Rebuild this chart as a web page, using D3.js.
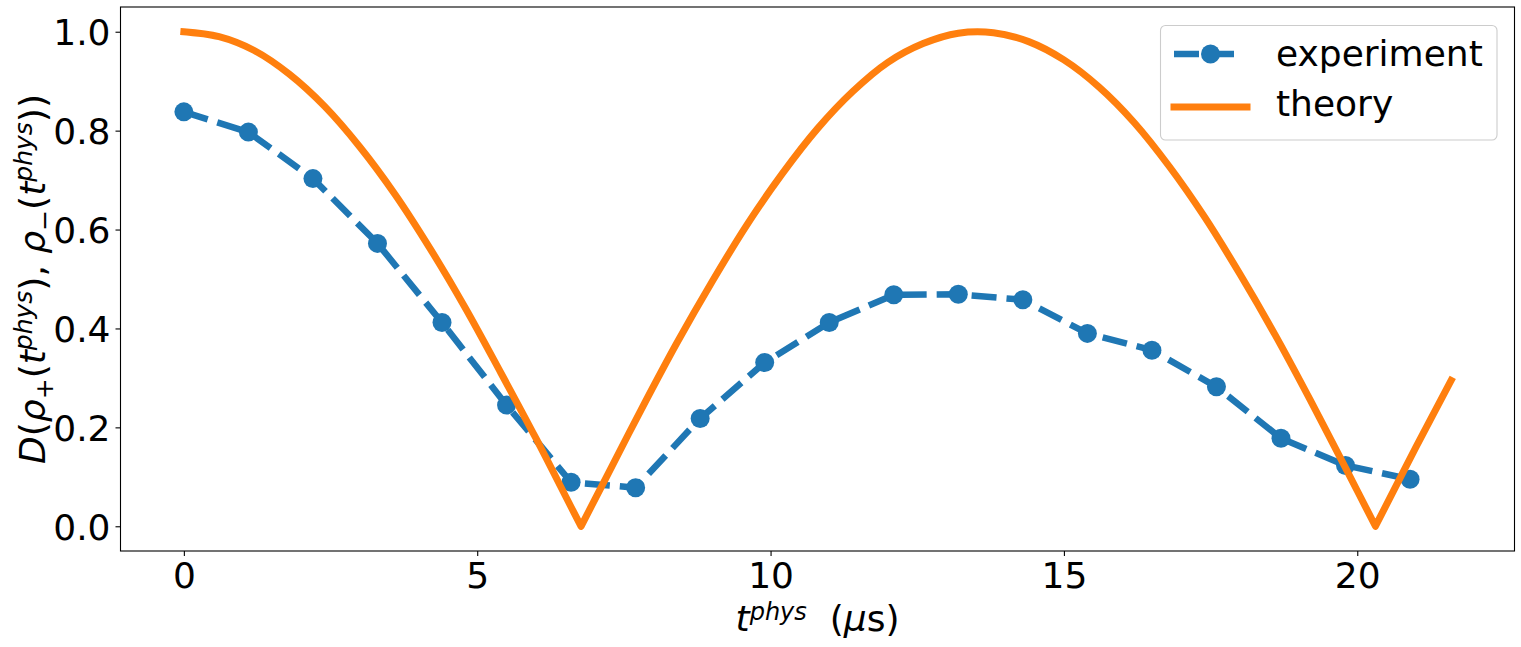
<!DOCTYPE html>
<html>
<head>
<meta charset="utf-8">
<script src="https://cdn.jsdelivr.net/npm/d3@7/dist/d3.min.js"></script>
<style>
  html, body { margin: 0; padding: 0; background: #fff; }
  svg { display: block; font-family: "DejaVu Sans", sans-serif; }
</style>
</head>
<body>
<div id="chart"></div>
<script>
// experiment: measured distance at each physical time (us)
const expTimes = [0, 1.1, 2.2, 3.3, 4.4, 5.5, 6.6, 7.7, 8.8, 9.9, 11.0, 12.1, 13.2, 14.3, 15.4, 16.5, 17.6, 18.7, 19.8, 20.9];
const expValues = [0.838, 0.797, 0.703, 0.572, 0.412, 0.245, 0.089, 0.078, 0.218, 0.331, 0.412, 0.468, 0.469, 0.458, 0.390, 0.356, 0.282, 0.178, 0.123, 0.095];

// theory curve
const theoryTimes = [0, 0.6, 1.2, 1.8, 2.4, 3.0, 3.6, 4.2, 4.8, 5.4, 6.0, 6.6, 6.77, 7.2, 7.8, 8.4, 9.0, 9.6, 10.2, 10.8, 11.4, 12.0, 12.6, 13.2, 13.8, 14.4, 15.0, 15.6, 16.2, 16.8, 17.4, 18.0, 18.6, 19.2, 19.8, 20.31, 20.4, 21.0, 21.6];
const theoryValues = [1.000, 0.990, 0.962, 0.914, 0.849, 0.767, 0.671, 0.561, 0.441, 0.311, 0.178, 0.039, 0.000, 0.099, 0.237, 0.370, 0.494, 0.610, 0.713, 0.804, 0.879, 0.938, 0.976, 0.997, 0.998, 0.980, 0.943, 0.888, 0.816, 0.727, 0.625, 0.510, 0.387, 0.255, 0.118, 0.000, 0.021, 0.160, 0.295];

const xTicks = [0, 5, 10, 15, 20];
const yTicks = [0, 0.2, 0.4, 0.6, 0.8, 1.0];
const seriesNames = ["experiment", "theory"];

const W = 1521, H = 647;
const margin = { top: 7, right: 6.5, bottom: 96, left: 120.5 };
const width = W - margin.left - margin.right;
const height = H - margin.top - margin.bottom;
const blue = "#1f77b4", orange = "#ff7f0e";
const fontSize = 36;
const smallSize = 24;

const svg = d3.select("#chart").append("svg")
    .attr("width", W)
    .attr("height", H);

const g = svg.append("g")
    .attr("transform", `translate(${margin.left},${margin.top})`);

// Scales (matplotlib style 5% padding)
const x = d3.scaleLinear().domain([-1.08, 22.68]).range([0, width]);
const y = d3.scaleLinear().domain([-0.05, 1.05]).range([height, 0]);

// Axes
const xAxis = g.append("g")
    .attr("transform", `translate(0,${height})`)
    .call(d3.axisBottom(x).tickValues(xTicks).tickFormat(d3.format("d")).tickSize(5).tickPadding(5));
const yAxis = g.append("g")
    .call(d3.axisLeft(y).tickValues(yTicks).tickFormat(d3.format(".1f")).tickSize(5).tickPadding(5));

[xAxis, yAxis].forEach(a => {
    a.select(".domain").remove();
    a.selectAll("line").attr("stroke", "#000").attr("stroke-width", 1.1);
    a.selectAll("text")
        .attr("fill", "#000")
        .style("font-size", fontSize + "px")
        .style("font-family", "DejaVu Sans");
});
xAxis.selectAll("text").attr("dy", "0.74em");
yAxis.selectAll("text").attr("dy", "0.36em");

// Frame
g.append("rect")
    .attr("x", 0).attr("y", 0)
    .attr("width", width).attr("height", height)
    .attr("fill", "none")
    .attr("stroke", "#000")
    .attr("stroke-width", 1.1);

// Experiment (dashed line with markers)
const expData = expTimes.map((t, i) => [t, expValues[i]]);
const line = d3.line().x(d => x(d[0])).y(d => y(d[1]));

g.append("path")
    .datum(expData)
    .attr("d", line)
    .attr("fill", "none")
    .attr("stroke", blue)
    .attr("stroke-width", 6.5)
    .attr("stroke-dasharray", "25,10")
    .attr("stroke-linejoin", "round")
    .attr("stroke-linecap", "butt");

g.selectAll("circle.exp")
    .data(expData)
    .enter()
    .append("circle")
    .attr("class", "exp")
    .attr("cx", d => x(d[0]))
    .attr("cy", d => y(d[1]))
    .attr("r", 9.5)
    .attr("fill", blue);

// Theory (solid) - smooth pieces between the zeros, joined into one path
const theoryData = theoryTimes.map((t, i) => [t, theoryValues[i]]);
const pieces = [];
let cur = [];
theoryData.forEach(d => {
    cur.push(d);
    if (d[1] === 0 && cur.length > 1) { pieces.push(cur); cur = [d]; }
});
if (cur.length > 1) pieces.push(cur);

const p = d3.path();
let started = false;
// proxy context: only the first moveTo is kept so pieces stay joined
const ctx = {
    moveTo: (a, b) => { if (!started) { p.moveTo(a, b); started = true; } },
    lineTo: (a, b) => p.lineTo(a, b),
    bezierCurveTo: (...args) => p.bezierCurveTo(...args),
    closePath: () => p.closePath()
};
const smooth = d3.line().x(d => x(d[0])).y(d => y(d[1]))
    .curve(d3.curveCatmullRom.alpha(0.5)).context(ctx);
pieces.forEach(piece => smooth(piece));

g.append("path")
    .attr("d", p.toString())
    .attr("fill", "none")
    .attr("stroke", orange)
    .attr("stroke-width", 7)
    .attr("stroke-linejoin", "round")
    .attr("stroke-linecap", "square");

// X label: t^phys  (μs)
const xLabel = svg.append("text")
    .attr("x", margin.left + width / 2)
    .attr("y", 631)
    .attr("text-anchor", "middle")
    .style("font-size", fontSize + "px")
    .style("white-space", "pre")
    .attr("fill", "#000");
xLabel.append("tspan").style("font-style", "italic").text("t");
xLabel.append("tspan").attr("dy", -11).style("font-style", "italic").style("font-size", smallSize + "px").text("phys");
xLabel.append("tspan").attr("dy", 11).text("  (");
xLabel.append("tspan").style("font-style", "italic").text("\u03bc");
xLabel.append("tspan").text("s)");

// Y label: D(ρ+(t^phys), ρ−(t^phys))
const yLabel = svg.append("text")
    .attr("transform", `translate(45,${margin.top + height / 2}) rotate(-90)`)
    .attr("text-anchor", "middle")
    .style("font-size", fontSize + "px")
    .attr("fill", "#000");
const parts = [
    ["D", "i", 0], ["(", "n", 0], ["\u03c1", "i", 0], ["+", "n", 1],
    ["(", "n", 0], ["t", "i", 0], ["phys", "i", 2], ["), ", "n", 0],
    ["\u03c1", "i", 0], ["\u2212", "n", 1], ["(", "n", 0], ["t", "i", 0],
    ["phys", "i", 2], ["))", "n", 0]
];
let shift = 0;
parts.forEach(([txt, style, kind]) => {
    const target = kind === 1 ? 8 : kind === 2 ? -13 : 0;
    yLabel.append("tspan")
        .attr("dy", target - shift)
        .style("font-style", style === "i" ? "italic" : "normal")
        .style("font-size", kind ? (smallSize + 1) + "px" : fontSize + "px")
        .text(txt);
    shift = target;
});

// Legend
const lg = svg.append("g");
lg.append("rect")
    .attr("x", 1160.5).attr("y", 25.5)
    .attr("width", 336.5).attr("height", 114.5)
    .attr("rx", 5)
    .attr("fill", "#fff").attr("fill-opacity", 0.8)
    .attr("stroke", "#cccccc").attr("stroke-width", 1.1);

lg.append("line")
    .attr("x1", 1174).attr("x2", 1237)
    .attr("y1", 54).attr("y2", 54)
    .attr("stroke", blue).attr("stroke-width", 6.5)
    .attr("stroke-dasharray", "25,10");
lg.append("circle")
    .attr("cx", 1210.5).attr("cy", 54).attr("r", 9.5)
    .attr("fill", blue);
lg.append("line")
    .attr("x1", 1174).attr("x2", 1247)
    .attr("y1", 107).attr("y2", 107)
    .attr("stroke", orange).attr("stroke-width", 7)
    .attr("stroke-linecap", "square");

lg.selectAll("text.leg")
    .data(seriesNames)
    .enter()
    .append("text")
    .attr("class", "leg")
    .attr("x", 1276)
    .attr("y", (d, i) => 66 + i * 50)
    .style("font-size", fontSize + "px")
    .attr("fill", "#000")
    .text(d => d);
</script>
</body>
</html>
